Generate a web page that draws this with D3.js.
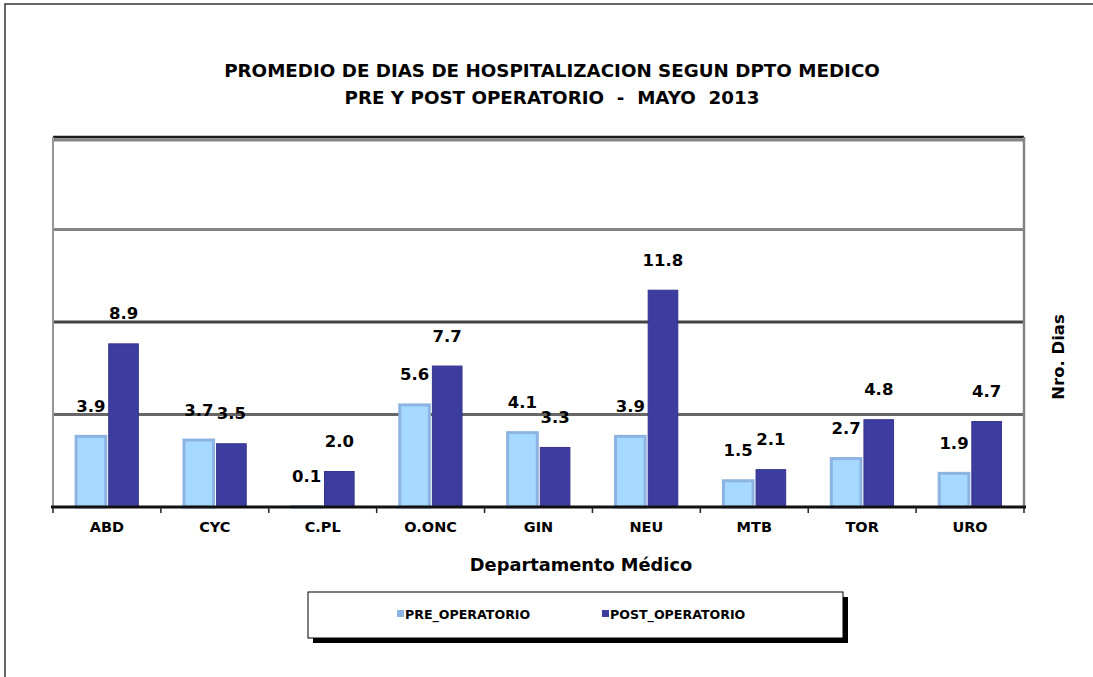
<!DOCTYPE html>
<html>
<head>
<meta charset="utf-8">
<script src="https://cdn.jsdelivr.net/npm/d3@7"></script>
<style>
  body { margin: 0; background: #fff; }
  text { font-family: "DejaVu Sans", Verdana, sans-serif; font-weight: bold; white-space: pre; }
</style>
</head>
<body>
<div id="chart"></div>
<script>
const categories = ['ABD', 'CYC', 'C.PL', 'O.ONC', 'GIN', 'NEU', 'MTB', 'TOR', 'URO']
const seriesNames = ['PRE_OPERATORIO', 'POST_OPERATORIO']
const preValues = [3.9, 3.7, 0.1, 5.6, 4.1, 3.9, 1.5, 2.7, 1.9]
const postValues = [8.9, 3.5, 2.0, 7.7, 3.3, 11.8, 2.1, 4.8, 4.7]
const yTicks = [0, 5, 10, 15, 20]
const titleLines = ['PROMEDIO DE DIAS DE HOSPITALIZACION SEGUN DPTO MEDICO', 'PRE Y POST OPERATORIO  -  MAYO  2013']

const width = 1093, height = 677
const plot = { left: 53, right: 1024, top: 137, bottom: 507 }
const fills = { PRE_OPERATORIO: '#a6d9ff', POST_OPERATORIO: '#3d3d9f' }
const borders = { PRE_OPERATORIO: '#8db3e2', POST_OPERATORIO: '#35358f' }

const svg = d3.select('#chart').append('svg')
    .attr('width', width)
    .attr('height', height)

// outer frame
svg.append('rect')
    .attr('x', 5).attr('y', 4)
    .attr('width', 1200).attr('height', 800)
    .attr('fill', '#fff')
    .attr('stroke', '#333').attr('stroke-width', 1.5)

svg.selectAll('.title')
    .data(titleLines)
    .join('text')
    .attr('class', 'title')
    .attr('x', 552)
    .attr('y', (d, i) => 77 + i * 27)
    .attr('text-anchor', 'middle')
    .attr('font-size', '18.3px')
    .text(d => d)

const data = categories.map((c, i) => ({
    category: c,
    values: [
        { key: 'PRE_OPERATORIO', value: preValues[i] },
        { key: 'POST_OPERATORIO', value: postValues[i] }
    ]
}))

const x = d3.scaleBand().domain(categories).range([plot.left, plot.right])
const bw = x.bandwidth()
const x1 = d3.scaleBand().domain(seriesNames).range([bw * 0.2, bw * 0.805])
const y = d3.scaleLinear().domain([0, 20]).range([plot.bottom, plot.top])

// gridlines
const gridColor = t => t === 10 ? '#434343' : (t === 5 ? '#666' : '#848484')
svg.selectAll('.grid')
    .data(yTicks.filter(t => t > 0 && t < 20))
    .join('line')
    .attr('class', 'grid')
    .attr('x1', plot.left).attr('x2', plot.right)
    .attr('y1', d => y(d)).attr('y2', d => y(d))
    .attr('stroke', gridColor)
    .attr('stroke-width', 3)

// top of the plot (back wall edge)
svg.append('line')
    .attr('x1', plot.left).attr('x2', plot.right)
    .attr('y1', y(20) + 3).attr('y2', y(20) + 3)
    .attr('stroke', '#848484').attr('stroke-width', 3)
svg.append('line')
    .attr('x1', plot.left).attr('x2', plot.right)
    .attr('y1', y(20)).attr('y2', y(20))
    .attr('stroke', '#1a1a1a').attr('stroke-width', 2.5)

// side walls
svg.append('line')
    .attr('x1', plot.left).attr('x2', plot.left)
    .attr('y1', plot.top).attr('y2', plot.bottom)
    .attr('stroke', '#969696').attr('stroke-width', 2)
svg.append('line')
    .attr('x1', plot.right).attr('x2', plot.right)
    .attr('y1', plot.top).attr('y2', plot.bottom)
    .attr('stroke', '#848484').attr('stroke-width', 2.5)

const groups = svg.selectAll('.cat')
    .data(data)
    .join('g')
    .attr('class', 'cat')
    .attr('transform', d => `translate(${x(d.category)},0)`)

groups.selectAll('rect')
    .data(d => d.values)
    .join('rect')
    .attr('x', d => x1(d.key) + 1.5)
    .attr('width', x1.bandwidth() - 3)
    .attr('y', d => y(d.value) + 1.5)
    .attr('height', d => Math.max(0, y(0) - y(d.value) - 1.5))
    .attr('fill', d => fills[d.key])
    .attr('stroke', d => borders[d.key])
    .attr('stroke-width', d => d.key === 'PRE_OPERATORIO' ? 3 : 1)

groups.selectAll('.val')
    .data(d => d.values)
    .join('text')
    .attr('class', 'val')
    .attr('x', d => x1(d.key) + x1.bandwidth() / 2)
    .attr('y', d => y(d.value) - 23)
    .attr('text-anchor', 'middle')
    .attr('font-size', '16.5px')
    .text(d => d3.format('.1f')(d.value))

// baseline + category ticks
const xAxis = d3.axisBottom(x).tickSize(0).tickPadding(15)
const axisG = svg.append('g')
    .attr('transform', `translate(0,${plot.bottom})`)
    .call(xAxis)
axisG.select('.domain').remove()
axisG.selectAll('text')
    .attr('font-size', '14.5px')
    .attr('fill', '#000')
    .attr('font-family', '"DejaVu Sans", sans-serif')
    .attr('font-weight', 'bold')

svg.append('line')
    .attr('x1', plot.left - 2).attr('x2', plot.right + 2)
    .attr('y1', plot.bottom).attr('y2', plot.bottom)
    .attr('stroke', '#111').attr('stroke-width', 3)

const boundaries = categories.map(c => x(c)).concat([plot.right])
svg.selectAll('.tick-mark')
    .data(boundaries)
    .join('line')
    .attr('class', 'tick-mark')
    .attr('x1', d => d).attr('x2', d => d)
    .attr('y1', plot.bottom).attr('y2', plot.bottom + 6)
    .attr('stroke', '#222').attr('stroke-width', 1.5)

svg.append('text')
    .attr('x', 581).attr('y', 571)
    .attr('text-anchor', 'middle')
    .attr('font-size', '17.8px')
    .text('Departamento Médico')

svg.append('text')
    .attr('transform', 'translate(1064,357) rotate(-90)')
    .attr('text-anchor', 'middle')
    .attr('font-size', '16.5px')
    .text('Nro. Dias')

// legend
const legend = svg.append('g').attr('transform', 'translate(308,592)')
legend.append('rect')
    .attr('x', 5).attr('y', 5).attr('width', 535).attr('height', 46)
    .attr('fill', '#000')
legend.append('rect')
    .attr('width', 535).attr('height', 46)
    .attr('fill', '#fff').attr('stroke', '#000').attr('stroke-width', 1)

const legX = [89, 294]
const items = legend.selectAll('.leg')
    .data(seriesNames)
    .join('g')
    .attr('class', 'leg')
    .attr('transform', (d, i) => `translate(${legX[i]},22)`)
items.append('rect')
    .attr('x', 0).attr('y', -4).attr('width', 7).attr('height', 7)
    .attr('fill', d => d === 'PRE_OPERATORIO' ? '#8db3e2' : fills[d])
items.append('text')
    .attr('x', 8).attr('y', 4.5)
    .attr('font-size', '12.6px')
    .text(d => d)
</script>
</body>
</html>
